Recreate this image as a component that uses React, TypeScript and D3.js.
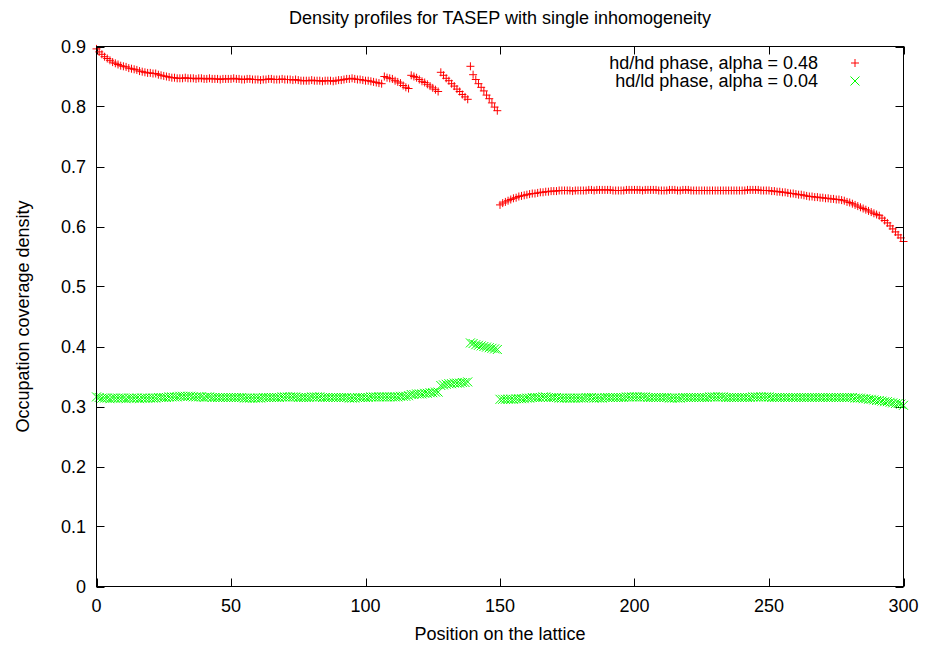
import React from "react";
import * as d3 from "d3";

const title = "Density profiles for TASEP with single inhomogeneity";
const xLabel = "Position on the lattice";
const yLabel = "Occupation coverage density";
const seriesNames = ["hd/hd phase, alpha = 0.48", "hd/ld phase, alpha = 0.04"];
const xTicks = [0, 50, 100, 150, 200, 250, 300];
const yTicks = [0, 0.1, 0.2, 0.3, 0.4, 0.5, 0.6, 0.7, 0.8, 0.9];

// lattice positions 0..300
const positions = d3.range(0, 301);

// hd/hd phase, alpha = 0.48
const hdhdValues = [
  0.896, 0.891, 0.887, 0.883, 0.880, 0.877, 0.874, 0.872, 0.870, 0.868,
  0.867, 0.866, 0.864, 0.863, 0.862, 0.861, 0.859, 0.858, 0.857, 0.856,
  0.856, 0.855, 0.855, 0.853, 0.852, 0.851, 0.850, 0.849, 0.848, 0.848,
  0.847, 0.847, 0.847, 0.848, 0.847, 0.847, 0.847, 0.846, 0.847, 0.847,
  0.846, 0.846, 0.847, 0.846, 0.846, 0.846, 0.845, 0.846, 0.846, 0.846,
  0.846, 0.847, 0.846, 0.846, 0.845, 0.845, 0.846, 0.846, 0.845, 0.845,
  0.845, 0.844, 0.845, 0.845, 0.846, 0.846, 0.845, 0.845, 0.845, 0.846,
  0.845, 0.845, 0.845, 0.844, 0.845, 0.844, 0.843, 0.843, 0.843, 0.843,
  0.844, 0.843, 0.843, 0.843, 0.842, 0.843, 0.843, 0.843, 0.842, 0.843,
  0.844, 0.844, 0.845, 0.846, 0.846, 0.847, 0.846, 0.845, 0.845, 0.844,
  0.843, 0.843, 0.842, 0.841, 0.840, 0.839, 0.838,
  0.850, 0.848, 0.847, 0.846, 0.843, 0.841, 0.839, 0.835, 0.832, 0.830,
  0.852, 0.850, 0.848, 0.845, 0.842, 0.840, 0.837, 0.834, 0.831, 0.828, 0.825,
  0.857, 0.852, 0.847, 0.843, 0.838, 0.834, 0.829, 0.825, 0.820, 0.816, 0.812,
  0.867, 0.853, 0.845, 0.838, 0.832, 0.826, 0.819, 0.813, 0.806, 0.799, 0.793,
  0.636, 0.639, 0.641, 0.643, 0.645, 0.647, 0.648, 0.650, 0.651, 0.652,
  0.653, 0.654, 0.655, 0.655, 0.656, 0.657, 0.657, 0.658, 0.658, 0.659,
  0.659, 0.659, 0.660, 0.660, 0.660, 0.660, 0.660, 0.659, 0.660, 0.660,
  0.660, 0.660, 0.660, 0.661, 0.661, 0.660, 0.661, 0.661, 0.661, 0.661,
  0.661, 0.661, 0.660, 0.660, 0.660, 0.660, 0.660, 0.661, 0.661, 0.661,
  0.661, 0.661, 0.661, 0.660, 0.661, 0.661, 0.661, 0.661, 0.661, 0.660,
  0.660, 0.660, 0.660, 0.661, 0.661, 0.661, 0.660, 0.660, 0.661, 0.661,
  0.661, 0.660, 0.660, 0.660, 0.660, 0.660, 0.660, 0.660, 0.660, 0.660,
  0.660, 0.660, 0.660, 0.660, 0.660, 0.660, 0.660, 0.660, 0.660, 0.660,
  0.660, 0.660, 0.661, 0.661, 0.661, 0.661, 0.661, 0.660, 0.660, 0.660,
  0.660, 0.659, 0.659, 0.658, 0.658, 0.657, 0.657, 0.656, 0.655, 0.655,
  0.654, 0.653, 0.653, 0.652, 0.651, 0.650, 0.650, 0.649, 0.649, 0.648,
  0.648, 0.647, 0.647, 0.646, 0.646, 0.645, 0.645, 0.644, 0.643, 0.641,
  0.640, 0.638, 0.636, 0.634, 0.632, 0.630, 0.628, 0.626, 0.624, 0.622,
  0.620, 0.618, 0.614, 0.610, 0.606, 0.601, 0.596, 0.591, 0.586, 0.581,
  0.575,
];

// hd/ld phase, alpha = 0.04
const hdldValues = [
  0.316, 0.315, 0.314, 0.314, 0.314, 0.313, 0.314, 0.314, 0.314, 0.314,
  0.314, 0.313, 0.314, 0.314, 0.314, 0.314, 0.313, 0.314, 0.314, 0.314,
  0.314, 0.314, 0.314, 0.315, 0.315, 0.315, 0.315, 0.316, 0.316, 0.316,
  0.316, 0.317, 0.317, 0.317, 0.317, 0.317, 0.316, 0.316, 0.316, 0.316,
  0.315, 0.316, 0.316, 0.315, 0.315, 0.315, 0.315, 0.315, 0.315, 0.315,
  0.315, 0.315, 0.315, 0.315, 0.315, 0.314, 0.314, 0.314, 0.314, 0.314,
  0.314, 0.314, 0.315, 0.315, 0.315, 0.315, 0.315, 0.315, 0.315, 0.316,
  0.316, 0.316, 0.316, 0.316, 0.316, 0.315, 0.315, 0.315, 0.315, 0.315,
  0.316, 0.316, 0.316, 0.316, 0.315, 0.315, 0.315, 0.315, 0.315, 0.315,
  0.315, 0.315, 0.315, 0.315, 0.314, 0.314, 0.314, 0.315, 0.315, 0.315,
  0.315, 0.315, 0.316, 0.316, 0.316, 0.316, 0.316, 0.316, 0.316, 0.316,
  0.316, 0.316, 0.316, 0.317, 0.317, 0.317, 0.318,
  0.320, 0.320, 0.321, 0.321, 0.321, 0.322, 0.322, 0.323, 0.323, 0.324, 0.324,
  0.335, 0.336, 0.337, 0.338, 0.338, 0.339, 0.339, 0.339, 0.340, 0.340, 0.341,
  0.406, 0.405, 0.403, 0.402, 0.401, 0.400, 0.399, 0.398, 0.397, 0.396, 0.395,
  0.312, 0.312, 0.312, 0.312, 0.312, 0.312, 0.313, 0.313, 0.313, 0.313,
  0.314, 0.314, 0.315, 0.315, 0.315, 0.315, 0.316, 0.316, 0.315, 0.315,
  0.315, 0.315, 0.314, 0.314, 0.314, 0.314, 0.314, 0.314, 0.314, 0.314,
  0.314, 0.314, 0.315, 0.315, 0.315, 0.314, 0.314, 0.314, 0.314, 0.315,
  0.315, 0.315, 0.315, 0.315, 0.315, 0.315, 0.315, 0.316, 0.316, 0.316,
  0.316, 0.316, 0.316, 0.316, 0.316, 0.315, 0.315, 0.315, 0.315, 0.315,
  0.315, 0.315, 0.315, 0.314, 0.314, 0.314, 0.314, 0.314, 0.315, 0.315,
  0.315, 0.315, 0.315, 0.315, 0.315, 0.315, 0.315, 0.315, 0.316, 0.316,
  0.316, 0.316, 0.316, 0.316, 0.315, 0.315, 0.315, 0.315, 0.315, 0.315,
  0.315, 0.315, 0.315, 0.315, 0.316, 0.316, 0.316, 0.316, 0.316, 0.316,
  0.316, 0.315, 0.315, 0.315, 0.315, 0.315, 0.315, 0.315, 0.315, 0.315,
  0.315, 0.315, 0.315, 0.315, 0.315, 0.315, 0.315, 0.315, 0.315, 0.315,
  0.315, 0.315, 0.315, 0.315, 0.315, 0.315, 0.315, 0.315, 0.315, 0.315,
  0.315, 0.315, 0.314, 0.314, 0.314, 0.313, 0.313, 0.312, 0.312, 0.311,
  0.310, 0.310, 0.309, 0.308, 0.308, 0.307, 0.306, 0.305, 0.305, 0.304,
  0.302,
];

const seriesColors = ["#ff0000", "#00ff00"];

const W = 925;
const H = 646;
const left = 96.5;
const right = 903.5;
const top = 46.5;
const bottom = 586.5;
const FONT = "'Liberation Sans', Arial, Helvetica, sans-serif";
const FS = 18;

function Plus({ x, y, color }: { x: number; y: number; color: string }) {
  const s = 4;
  return (
    <path d={`M${x - s},${y}H${x + s}M${x},${y - s}V${y + s}`} stroke={color} strokeWidth={1} fill="none" />
  );
}

function Cross({ x, y, color }: { x: number; y: number; color: string }) {
  const s = 4.5;
  return (
    <path
      d={`M${x - s},${y - s}L${x + s},${y + s}M${x - s},${y + s}L${x + s},${y - s}`}
      stroke={color}
      strokeWidth={1}
      fill="none"
    />
  );
}

export default function App() {
  const x = d3.scaleLinear().domain([0, 300]).range([left, right]);
  const y = d3.scaleLinear().domain([0, 0.9]).range([bottom, top]);
  const fmtY = (v: number) => (v === 0 ? "0" : d3.format(".1f")(v));

  const tickLen = 8;

  return (
    <svg width={W} height={H} style={{ position: "absolute", left: 0, top: 0, background: "#fff" }} fontFamily={FONT}>
      <rect x={0} y={0} width={W} height={H} fill="#fff" />
      <text x={(left + right) / 2} y={24} textAnchor="middle" fontSize={FS} fill="#000">
        {title}
      </text>

      {/* ticks */}
      {xTicks.map((t) => (
        <g key={"xt" + t}>
          <line x1={Math.round(x(t)) + 0.5} x2={Math.round(x(t)) + 0.5} y1={bottom} y2={bottom - tickLen} stroke="#000" />
          <line x1={Math.round(x(t)) + 0.5} x2={Math.round(x(t)) + 0.5} y1={top} y2={top + tickLen} stroke="#000" />
          <text x={x(t)} y={612} textAnchor="middle" fontSize={FS} fill="#000">
            {t}
          </text>
        </g>
      ))}
      {yTicks.map((t) => (
        <g key={"yt" + t}>
          <line x1={left} x2={left + tickLen} y1={Math.round(y(t)) + 0.5} y2={Math.round(y(t)) + 0.5} stroke="#000" />
          <line x1={right} x2={right - tickLen} y1={Math.round(y(t)) + 0.5} y2={Math.round(y(t)) + 0.5} stroke="#000" />
          <text x={86} y={y(t) + 6.5} textAnchor="end" fontSize={FS} fill="#000">
            {fmtY(t)}
          </text>
        </g>
      ))}

      {/* data */}
      <g>
        {positions.map((p, i) => (
          <Plus key={"a" + i} x={x(p)} y={y(hdhdValues[i])} color={seriesColors[0]} />
        ))}
      </g>
      <g>
        {positions.map((p, i) => (
          <Cross key={"b" + i} x={x(p)} y={y(hdldValues[i])} color={seriesColors[1]} />
        ))}
      </g>

      {/* frame */}
      <rect x={left} y={top} width={right - left} height={bottom - top} fill="none" stroke="#000" strokeWidth={1} />

      {/* legend */}
      <text x={818} y={69} textAnchor="end" fontSize={FS} fill="#000">
        {seriesNames[0]}
      </text>
      <Plus x={855} y={63} color={seriesColors[0]} />
      <text x={818} y={87} textAnchor="end" fontSize={FS} fill="#000">
        {seriesNames[1]}
      </text>
      <Cross x={855} y={81} color={seriesColors[1]} />

      {/* axis labels */}
      <text x={(left + right) / 2} y={640} textAnchor="middle" fontSize={FS} fill="#000">
        {xLabel}
      </text>
      <text
        transform={`translate(28.5,${(top + bottom) / 2}) rotate(-90)`}
        textAnchor="middle"
        fontSize={FS}
        fill="#000"
      >
        {yLabel}
      </text>
    </svg>
  );
}
